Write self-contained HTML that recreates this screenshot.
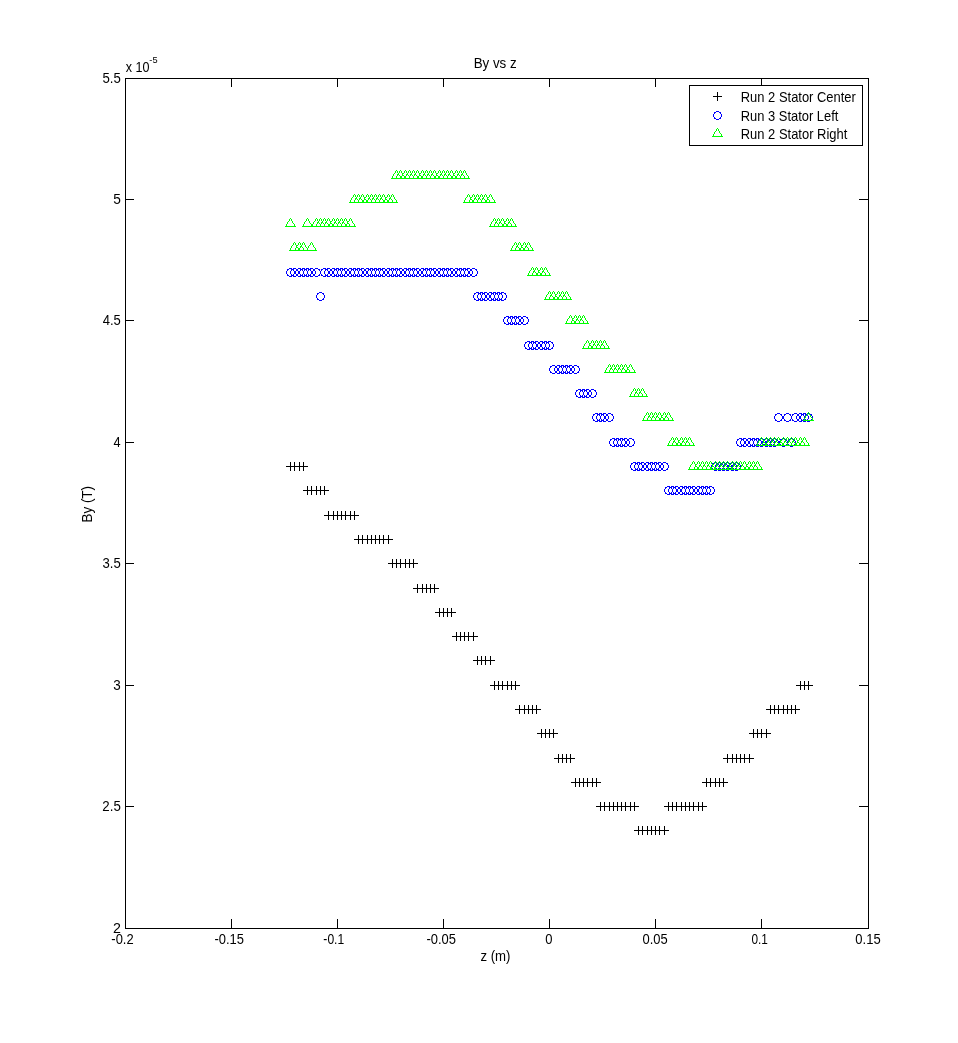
<!DOCTYPE html>
<html lang="en"><head><meta charset="utf-8"><title>By vs z</title>
<style>
html,body{margin:0;padding:0;background:#fff;}
body{width:958px;height:1043px;overflow:hidden;}
svg{display:block;}
text{font-family:"Liberation Sans",Arial,Helvetica,sans-serif;font-size:14.2px;fill:#000;}
.sup{font-size:9.7px;}
</style></head><body>
<svg width="958" height="1043" viewBox="0 0 958 1043" shape-rendering="crispEdges">
<rect width="958" height="1043" fill="#fff"/>
<defs>
<g id="mp" fill="#000"><rect x="-4" y="0" width="9" height="1"/><rect x="0" y="-4" width="1" height="9"/></g>
<g id="mc" fill="#00f">
<rect x="-1" y="-4" width="3" height="1"/><rect x="-1" y="4" width="3" height="1"/>
<rect x="-4" y="-1" width="1" height="3"/><rect x="4" y="-1" width="1" height="3"/>
<rect x="-3" y="-3" width="2" height="1"/><rect x="2" y="-3" width="2" height="1"/>
<rect x="-3" y="3" width="2" height="1"/><rect x="2" y="3" width="2" height="1"/>
<rect x="-3" y="-2" width="1" height="1"/><rect x="3" y="-2" width="1" height="1"/>
<rect x="-3" y="2" width="1" height="1"/><rect x="3" y="2" width="1" height="1"/>
</g>
<g id="mt" fill="#0f0">
<rect x="0" y="-5" width="1" height="1"/>
<rect x="-1" y="-4" width="1" height="2"/><rect x="1" y="-4" width="1" height="2"/>
<rect x="-2" y="-2" width="1" height="1"/><rect x="2" y="-2" width="1" height="2"/>
<rect x="-3" y="-1" width="1" height="2"/><rect x="3" y="0" width="1" height="1"/>
<rect x="-4" y="1" width="1" height="2"/><rect x="4" y="1" width="1" height="2"/>
<rect x="-5" y="3" width="11" height="1"/>
</g>
</defs>

<g fill="#000">
<rect x="125" y="78" width="744" height="1"/><rect x="125" y="928" width="744" height="1"/>
<rect x="125" y="78" width="1" height="851"/><rect x="868" y="78" width="1" height="851"/>
<rect x="231" y="919" width="1" height="9"/><rect x="231" y="79" width="1" height="8"/>
<rect x="337" y="919" width="1" height="9"/><rect x="337" y="79" width="1" height="8"/>
<rect x="443" y="919" width="1" height="9"/><rect x="443" y="79" width="1" height="8"/>
<rect x="549" y="919" width="1" height="9"/><rect x="549" y="79" width="1" height="8"/>
<rect x="655" y="919" width="1" height="9"/><rect x="655" y="79" width="1" height="8"/>
<rect x="761" y="919" width="1" height="9"/><rect x="761" y="79" width="1" height="8"/>
<rect x="126" y="806" width="8" height="1"/><rect x="859" y="806" width="9" height="1"/>
<rect x="126" y="685" width="8" height="1"/><rect x="859" y="685" width="9" height="1"/>
<rect x="126" y="563" width="8" height="1"/><rect x="859" y="563" width="9" height="1"/>
<rect x="126" y="442" width="8" height="1"/><rect x="859" y="442" width="9" height="1"/>
<rect x="126" y="320" width="8" height="1"/><rect x="859" y="320" width="9" height="1"/>
<rect x="126" y="199" width="8" height="1"/><rect x="859" y="199" width="9" height="1"/>
</g>
<text transform="translate(111.33,944) scale(0.9124,1)">-0.2</text>
<text transform="translate(214.43,944) scale(0.9124,1)">-0.15</text>
<text transform="translate(323.37,944) scale(0.8519,1)">-0.1</text>
<text transform="translate(426.43,944) scale(0.9124,1)">-0.05</text>
<text transform="translate(545.14,944) scale(0.9164,1)">0</text>
<text transform="translate(642.44,944) scale(0.9132,1)">0.05</text>
<text transform="translate(751.48,944) scale(0.8324,1)">0.1</text>
<text transform="translate(855.34,944) scale(0.9170,1)">0.15</text>
<text transform="translate(113.05,933) scale(1.0039,1)">2</text>
<text transform="translate(102.30,811) scale(0.9361,1)">2.5</text>
<text transform="translate(113.33,690) scale(0.9481,1)">3</text>
<text transform="translate(102.54,568) scale(0.9235,1)">3.5</text>
<text transform="translate(113.46,447) scale(0.8982,1)">4</text>
<text transform="translate(102.66,325) scale(0.9173,1)">4.5</text>
<text transform="translate(113.20,204) scale(0.9660,1)">5</text>
<text transform="translate(102.42,83) scale(0.9297,1)">5.5</text>
<text transform="translate(125.68,72) scale(0.8846,1)">x 10</text>
<text transform="translate(149.34,63) scale(0.9524,1)" class="sup">-5</text>
<text transform="translate(473.64,68) scale(0.9413,1)">By vs z</text>
<text transform="translate(480.42,961) scale(0.9296,1)">z (m)</text>
<text transform="translate(91.8,522.46) rotate(-90) scale(0.9447,1)">By (T)</text>
<g><use href="#mp" x="290" y="466"/><use href="#mp" x="294" y="466"/><use href="#mp" x="299" y="466"/><use href="#mp" x="303" y="466"/><use href="#mp" x="307" y="490"/><use href="#mp" x="311" y="490"/><use href="#mp" x="316" y="490"/><use href="#mp" x="320" y="490"/><use href="#mp" x="324" y="490"/><use href="#mp" x="328" y="515"/><use href="#mp" x="333" y="515"/><use href="#mp" x="337" y="515"/><use href="#mp" x="341" y="515"/><use href="#mp" x="345" y="515"/><use href="#mp" x="350" y="515"/><use href="#mp" x="354" y="515"/><use href="#mp" x="358" y="539"/><use href="#mp" x="362" y="539"/><use href="#mp" x="367" y="539"/><use href="#mp" x="371" y="539"/><use href="#mp" x="375" y="539"/><use href="#mp" x="379" y="539"/><use href="#mp" x="383" y="539"/><use href="#mp" x="388" y="539"/><use href="#mp" x="392" y="563"/><use href="#mp" x="396" y="563"/><use href="#mp" x="400" y="563"/><use href="#mp" x="405" y="563"/><use href="#mp" x="409" y="563"/><use href="#mp" x="413" y="563"/><use href="#mp" x="417" y="588"/><use href="#mp" x="422" y="588"/><use href="#mp" x="426" y="588"/><use href="#mp" x="430" y="588"/><use href="#mp" x="434" y="588"/><use href="#mp" x="439" y="612"/><use href="#mp" x="443" y="612"/><use href="#mp" x="447" y="612"/><use href="#mp" x="451" y="612"/><use href="#mp" x="456" y="636"/><use href="#mp" x="460" y="636"/><use href="#mp" x="464" y="636"/><use href="#mp" x="468" y="636"/><use href="#mp" x="473" y="636"/><use href="#mp" x="477" y="660"/><use href="#mp" x="481" y="660"/><use href="#mp" x="485" y="660"/><use href="#mp" x="490" y="660"/><use href="#mp" x="494" y="685"/><use href="#mp" x="498" y="685"/><use href="#mp" x="502" y="685"/><use href="#mp" x="507" y="685"/><use href="#mp" x="511" y="685"/><use href="#mp" x="515" y="685"/><use href="#mp" x="519" y="709"/><use href="#mp" x="524" y="709"/><use href="#mp" x="528" y="709"/><use href="#mp" x="532" y="709"/><use href="#mp" x="536" y="709"/><use href="#mp" x="541" y="733"/><use href="#mp" x="545" y="733"/><use href="#mp" x="549" y="733"/><use href="#mp" x="553" y="733"/><use href="#mp" x="558" y="758"/><use href="#mp" x="562" y="758"/><use href="#mp" x="566" y="758"/><use href="#mp" x="570" y="758"/><use href="#mp" x="575" y="782"/><use href="#mp" x="579" y="782"/><use href="#mp" x="583" y="782"/><use href="#mp" x="587" y="782"/><use href="#mp" x="592" y="782"/><use href="#mp" x="596" y="782"/><use href="#mp" x="600" y="806"/><use href="#mp" x="604" y="806"/><use href="#mp" x="609" y="806"/><use href="#mp" x="613" y="806"/><use href="#mp" x="617" y="806"/><use href="#mp" x="621" y="806"/><use href="#mp" x="625" y="806"/><use href="#mp" x="630" y="806"/><use href="#mp" x="634" y="806"/><use href="#mp" x="638" y="830"/><use href="#mp" x="642" y="830"/><use href="#mp" x="647" y="830"/><use href="#mp" x="651" y="830"/><use href="#mp" x="655" y="830"/><use href="#mp" x="659" y="830"/><use href="#mp" x="664" y="830"/><use href="#mp" x="668" y="806"/><use href="#mp" x="672" y="806"/><use href="#mp" x="676" y="806"/><use href="#mp" x="681" y="806"/><use href="#mp" x="685" y="806"/><use href="#mp" x="689" y="806"/><use href="#mp" x="693" y="806"/><use href="#mp" x="698" y="806"/><use href="#mp" x="702" y="806"/><use href="#mp" x="706" y="782"/><use href="#mp" x="710" y="782"/><use href="#mp" x="715" y="782"/><use href="#mp" x="719" y="782"/><use href="#mp" x="723" y="782"/><use href="#mp" x="727" y="758"/><use href="#mp" x="732" y="758"/><use href="#mp" x="736" y="758"/><use href="#mp" x="740" y="758"/><use href="#mp" x="744" y="758"/><use href="#mp" x="749" y="758"/><use href="#mp" x="753" y="733"/><use href="#mp" x="757" y="733"/><use href="#mp" x="761" y="733"/><use href="#mp" x="766" y="733"/><use href="#mp" x="770" y="709"/><use href="#mp" x="774" y="709"/><use href="#mp" x="778" y="709"/><use href="#mp" x="783" y="709"/><use href="#mp" x="787" y="709"/><use href="#mp" x="791" y="709"/><use href="#mp" x="795" y="709"/><use href="#mp" x="800" y="685"/><use href="#mp" x="804" y="685"/><use href="#mp" x="808" y="685"/></g>
<g><use href="#mc" x="290" y="272"/><use href="#mc" x="294" y="272"/><use href="#mc" x="299" y="272"/><use href="#mc" x="303" y="272"/><use href="#mc" x="307" y="272"/><use href="#mc" x="311" y="272"/><use href="#mc" x="316" y="272"/><use href="#mc" x="320" y="296"/><use href="#mc" x="324" y="272"/><use href="#mc" x="328" y="272"/><use href="#mc" x="333" y="272"/><use href="#mc" x="337" y="272"/><use href="#mc" x="341" y="272"/><use href="#mc" x="345" y="272"/><use href="#mc" x="350" y="272"/><use href="#mc" x="354" y="272"/><use href="#mc" x="358" y="272"/><use href="#mc" x="362" y="272"/><use href="#mc" x="367" y="272"/><use href="#mc" x="371" y="272"/><use href="#mc" x="375" y="272"/><use href="#mc" x="379" y="272"/><use href="#mc" x="383" y="272"/><use href="#mc" x="388" y="272"/><use href="#mc" x="392" y="272"/><use href="#mc" x="396" y="272"/><use href="#mc" x="400" y="272"/><use href="#mc" x="405" y="272"/><use href="#mc" x="409" y="272"/><use href="#mc" x="413" y="272"/><use href="#mc" x="417" y="272"/><use href="#mc" x="422" y="272"/><use href="#mc" x="426" y="272"/><use href="#mc" x="430" y="272"/><use href="#mc" x="434" y="272"/><use href="#mc" x="439" y="272"/><use href="#mc" x="443" y="272"/><use href="#mc" x="447" y="272"/><use href="#mc" x="451" y="272"/><use href="#mc" x="456" y="272"/><use href="#mc" x="460" y="272"/><use href="#mc" x="464" y="272"/><use href="#mc" x="468" y="272"/><use href="#mc" x="473" y="272"/><use href="#mc" x="477" y="296"/><use href="#mc" x="481" y="296"/><use href="#mc" x="485" y="296"/><use href="#mc" x="490" y="296"/><use href="#mc" x="494" y="296"/><use href="#mc" x="498" y="296"/><use href="#mc" x="502" y="296"/><use href="#mc" x="507" y="320"/><use href="#mc" x="511" y="320"/><use href="#mc" x="515" y="320"/><use href="#mc" x="519" y="320"/><use href="#mc" x="524" y="320"/><use href="#mc" x="528" y="345"/><use href="#mc" x="532" y="345"/><use href="#mc" x="536" y="345"/><use href="#mc" x="541" y="345"/><use href="#mc" x="545" y="345"/><use href="#mc" x="549" y="345"/><use href="#mc" x="553" y="369"/><use href="#mc" x="558" y="369"/><use href="#mc" x="562" y="369"/><use href="#mc" x="566" y="369"/><use href="#mc" x="570" y="369"/><use href="#mc" x="575" y="369"/><use href="#mc" x="579" y="393"/><use href="#mc" x="583" y="393"/><use href="#mc" x="587" y="393"/><use href="#mc" x="592" y="393"/><use href="#mc" x="596" y="417"/><use href="#mc" x="600" y="417"/><use href="#mc" x="604" y="417"/><use href="#mc" x="609" y="417"/><use href="#mc" x="613" y="442"/><use href="#mc" x="617" y="442"/><use href="#mc" x="621" y="442"/><use href="#mc" x="625" y="442"/><use href="#mc" x="630" y="442"/><use href="#mc" x="634" y="466"/><use href="#mc" x="638" y="466"/><use href="#mc" x="642" y="466"/><use href="#mc" x="647" y="466"/><use href="#mc" x="651" y="466"/><use href="#mc" x="655" y="466"/><use href="#mc" x="659" y="466"/><use href="#mc" x="664" y="466"/><use href="#mc" x="668" y="490"/><use href="#mc" x="672" y="490"/><use href="#mc" x="676" y="490"/><use href="#mc" x="681" y="490"/><use href="#mc" x="685" y="490"/><use href="#mc" x="689" y="490"/><use href="#mc" x="693" y="490"/><use href="#mc" x="698" y="490"/><use href="#mc" x="702" y="490"/><use href="#mc" x="706" y="490"/><use href="#mc" x="710" y="490"/><use href="#mc" x="715" y="466"/><use href="#mc" x="719" y="466"/><use href="#mc" x="723" y="466"/><use href="#mc" x="727" y="466"/><use href="#mc" x="732" y="466"/><use href="#mc" x="736" y="466"/><use href="#mc" x="740" y="442"/><use href="#mc" x="744" y="442"/><use href="#mc" x="749" y="442"/><use href="#mc" x="753" y="442"/><use href="#mc" x="757" y="442"/><use href="#mc" x="761" y="442"/><use href="#mc" x="766" y="442"/><use href="#mc" x="770" y="442"/><use href="#mc" x="774" y="442"/><use href="#mc" x="778" y="417"/><use href="#mc" x="783" y="442"/><use href="#mc" x="787" y="417"/><use href="#mc" x="791" y="442"/><use href="#mc" x="795" y="417"/><use href="#mc" x="800" y="417"/><use href="#mc" x="804" y="417"/><use href="#mc" x="808" y="417"/></g>
<g><use href="#mt" x="290" y="223"/><use href="#mt" x="294" y="247"/><use href="#mt" x="299" y="247"/><use href="#mt" x="303" y="247"/><use href="#mt" x="307" y="223"/><use href="#mt" x="311" y="247"/><use href="#mt" x="316" y="223"/><use href="#mt" x="320" y="223"/><use href="#mt" x="324" y="223"/><use href="#mt" x="328" y="223"/><use href="#mt" x="333" y="223"/><use href="#mt" x="337" y="223"/><use href="#mt" x="341" y="223"/><use href="#mt" x="345" y="223"/><use href="#mt" x="350" y="223"/><use href="#mt" x="354" y="199"/><use href="#mt" x="358" y="199"/><use href="#mt" x="362" y="199"/><use href="#mt" x="367" y="199"/><use href="#mt" x="371" y="199"/><use href="#mt" x="375" y="199"/><use href="#mt" x="379" y="199"/><use href="#mt" x="383" y="199"/><use href="#mt" x="388" y="199"/><use href="#mt" x="392" y="199"/><use href="#mt" x="396" y="175"/><use href="#mt" x="400" y="175"/><use href="#mt" x="405" y="175"/><use href="#mt" x="409" y="175"/><use href="#mt" x="413" y="175"/><use href="#mt" x="417" y="175"/><use href="#mt" x="422" y="175"/><use href="#mt" x="426" y="175"/><use href="#mt" x="430" y="175"/><use href="#mt" x="434" y="175"/><use href="#mt" x="439" y="175"/><use href="#mt" x="443" y="175"/><use href="#mt" x="447" y="175"/><use href="#mt" x="451" y="175"/><use href="#mt" x="456" y="175"/><use href="#mt" x="460" y="175"/><use href="#mt" x="464" y="175"/><use href="#mt" x="468" y="199"/><use href="#mt" x="473" y="199"/><use href="#mt" x="477" y="199"/><use href="#mt" x="481" y="199"/><use href="#mt" x="485" y="199"/><use href="#mt" x="490" y="199"/><use href="#mt" x="494" y="223"/><use href="#mt" x="498" y="223"/><use href="#mt" x="502" y="223"/><use href="#mt" x="507" y="223"/><use href="#mt" x="511" y="223"/><use href="#mt" x="515" y="247"/><use href="#mt" x="519" y="247"/><use href="#mt" x="524" y="247"/><use href="#mt" x="528" y="247"/><use href="#mt" x="532" y="272"/><use href="#mt" x="536" y="272"/><use href="#mt" x="541" y="272"/><use href="#mt" x="545" y="272"/><use href="#mt" x="549" y="296"/><use href="#mt" x="553" y="296"/><use href="#mt" x="558" y="296"/><use href="#mt" x="562" y="296"/><use href="#mt" x="566" y="296"/><use href="#mt" x="570" y="320"/><use href="#mt" x="575" y="320"/><use href="#mt" x="579" y="320"/><use href="#mt" x="583" y="320"/><use href="#mt" x="587" y="345"/><use href="#mt" x="592" y="345"/><use href="#mt" x="596" y="345"/><use href="#mt" x="600" y="345"/><use href="#mt" x="604" y="345"/><use href="#mt" x="609" y="369"/><use href="#mt" x="613" y="369"/><use href="#mt" x="617" y="369"/><use href="#mt" x="621" y="369"/><use href="#mt" x="625" y="369"/><use href="#mt" x="630" y="369"/><use href="#mt" x="634" y="393"/><use href="#mt" x="638" y="393"/><use href="#mt" x="642" y="393"/><use href="#mt" x="647" y="417"/><use href="#mt" x="651" y="417"/><use href="#mt" x="655" y="417"/><use href="#mt" x="659" y="417"/><use href="#mt" x="664" y="417"/><use href="#mt" x="668" y="417"/><use href="#mt" x="672" y="442"/><use href="#mt" x="676" y="442"/><use href="#mt" x="681" y="442"/><use href="#mt" x="685" y="442"/><use href="#mt" x="689" y="442"/><use href="#mt" x="693" y="466"/><use href="#mt" x="698" y="466"/><use href="#mt" x="702" y="466"/><use href="#mt" x="706" y="466"/><use href="#mt" x="710" y="466"/><use href="#mt" x="715" y="466"/><use href="#mt" x="719" y="466"/><use href="#mt" x="723" y="466"/><use href="#mt" x="727" y="466"/><use href="#mt" x="732" y="466"/><use href="#mt" x="736" y="466"/><use href="#mt" x="740" y="466"/><use href="#mt" x="744" y="466"/><use href="#mt" x="749" y="466"/><use href="#mt" x="753" y="466"/><use href="#mt" x="757" y="466"/><use href="#mt" x="761" y="442"/><use href="#mt" x="766" y="442"/><use href="#mt" x="770" y="442"/><use href="#mt" x="774" y="442"/><use href="#mt" x="778" y="442"/><use href="#mt" x="783" y="442"/><use href="#mt" x="787" y="442"/><use href="#mt" x="791" y="442"/><use href="#mt" x="795" y="442"/><use href="#mt" x="800" y="442"/><use href="#mt" x="804" y="442"/><use href="#mt" x="808" y="417"/></g>
<rect x="689" y="85" width="174" height="61" fill="#fff"/>
<g fill="#000"><rect x="689" y="85" width="174" height="1"/><rect x="689" y="145" width="174" height="1"/><rect x="689" y="85" width="1" height="61"/><rect x="862" y="85" width="1" height="61"/></g>
<use href="#mp" x="717" y="96"/><use href="#mc" x="717" y="115"/><use href="#mt" x="717" y="133"/>
<text transform="translate(740.77,102) scale(0.9122,1)">Run 2 Stator Center</text>
<text transform="translate(740.78,121) scale(0.9104,1)">Run 3 Stator Left</text>
<text transform="translate(740.77,139) scale(0.9126,1)">Run 2 Stator Right</text>
</svg></body></html>
